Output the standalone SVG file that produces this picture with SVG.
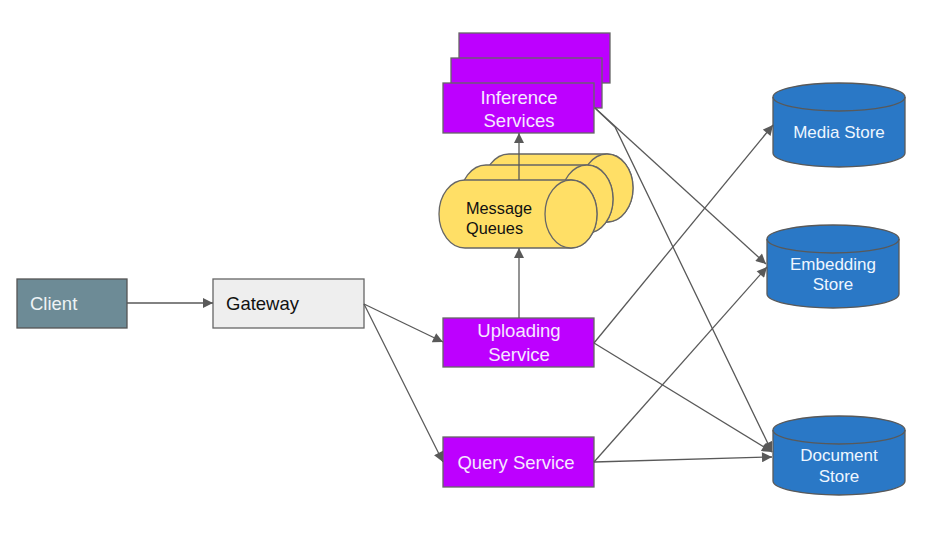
<svg xmlns="http://www.w3.org/2000/svg" width="946" height="533" viewBox="0 0 946 533">
<defs>
<marker id="ah" viewBox="0 0 10 10" refX="10" refY="5" markerWidth="11" markerHeight="10" markerUnits="userSpaceOnUse" orient="auto">
<path d="M0,0 L10,5 L0,10 Z" fill="#595959"/>
</marker>
<style>
text{font-family:"Liberation Sans",Arial,sans-serif;font-size:18.5px}
.svc{fill:#bd00ff;stroke:#666;stroke-width:1.3}
.svct{fill:#f6e8ff;text-anchor:middle}
.db{fill:#2a78c6;stroke:#595959;stroke-width:1.3}
.dbt{fill:#eef6ff;text-anchor:middle;font-size:17px}
.q{fill:#ffdf66;stroke:#666;stroke-width:1.3}
.qt{fill:#111;font-size:16.3px}
.c{fill:none;stroke:#595959;stroke-width:1.3}
</style>
</defs>
<rect width="946" height="533" fill="#fff"/>
<g id="client"><rect x="17" y="279" width="110" height="49" fill="#6d8b96" stroke="#555" stroke-width="1.3"/><text x="30" y="310" fill="#eef3f5">Client</text></g>
<g id="gateway"><rect x="213" y="279" width="151" height="49" fill="#eeeeee" stroke="#666" stroke-width="1.3"/><text x="226" y="310" fill="#111">Gateway</text></g>
<g id="inference">
<rect class="svc" x="459" y="33" width="151" height="50"/>
<rect class="svc" x="451" y="58" width="151" height="50"/>
<rect class="svc" x="443" y="83" width="151" height="50"/>
<text class="svct" x="519" y="104">Inference</text><text class="svct" x="519" y="127">Services</text>
</g>
<g id="queues">
<path class="q" d="M509,154 L607,154 A26,34 0 0 1 607,222 L509,222 A26,34 0 0 1 509,154 Z"/><ellipse class="q" cx="607" cy="188" rx="26" ry="34"/>
<path class="q" d="M486,165 L587,165 A26,34 0 0 1 587,233 L486,233 A26,34 0 0 1 486,165 Z"/><ellipse class="q" cx="587" cy="199" rx="26" ry="34"/>
<path class="q" d="M465,180 L571,180 A26,34 0 0 1 571,248 L465,248 A26,34 0 0 1 465,180 Z"/><ellipse class="q" cx="571" cy="214" rx="26" ry="34"/>
<text class="qt" x="466" y="214">Message</text><text class="qt" x="466" y="234">Queues</text>
</g>
<g id="uploading"><rect class="svc" x="443" y="318" width="151" height="49"/><text class="svct" x="519" y="337">Uploading</text><text class="svct" x="519" y="361">Service</text></g>
<g id="query"><rect class="svc" x="443" y="437" width="151" height="50"/><text class="svct" x="516" y="469">Query Service</text></g>
<g id="media">
<path class="db" d="M773,97 A66,14 0 0 1 905,97 L905,153 A66,14 0 0 1 773,153 Z"/><path class="db" d="M773,97 A66,14 0 0 0 905,97" style="fill:none"/>
<text class="dbt" x="839" y="138">Media Store</text>
</g>
<g id="embedding">
<path class="db" d="M767,239 A66,14 0 0 1 899,239 L899,294 A66,14 0 0 1 767,294 Z"/><path class="db" d="M767,239 A66,14 0 0 0 899,239" style="fill:none"/>
<text class="dbt" x="833" y="270">Embedding</text><text class="dbt" x="833" y="290">Store</text>
</g>
<g id="document">
<path class="db" d="M773,430 A66,14 0 0 1 905,430 L905,481 A66,14 0 0 1 773,481 Z"/><path class="db" d="M773,430 A66,14 0 0 0 905,430" style="fill:none"/>
<text class="dbt" x="839" y="461">Document</text><text class="dbt" x="839" y="482">Store</text>
</g>
<g id="connectors">
<line class="c" x1="127" y1="303" x2="213" y2="303" marker-end="url(#ah)"/>
<line class="c" x1="364" y1="304" x2="443" y2="342" marker-end="url(#ah)"/>
<line class="c" x1="364" y1="304" x2="443" y2="462" marker-end="url(#ah)"/>
<line class="c" x1="519" y1="318" x2="519" y2="248" marker-end="url(#ah)"/>
<line class="c" x1="519" y1="180" x2="519" y2="133" marker-end="url(#ah)"/>
<line class="c" x1="595" y1="108" x2="766" y2="264" marker-end="url(#ah)"/>
<polyline class="c" points="595,108 615,127 772,452" marker-end="url(#ah)"/>
<line class="c" x1="594" y1="343" x2="773" y2="125" marker-end="url(#ah)"/>
<line class="c" x1="594" y1="343" x2="772" y2="452" marker-end="url(#ah)"/>
<line class="c" x1="594" y1="462" x2="767" y2="267" marker-end="url(#ah)"/>
<line class="c" x1="594" y1="462" x2="772" y2="457" marker-end="url(#ah)"/>
</g>
</svg>
